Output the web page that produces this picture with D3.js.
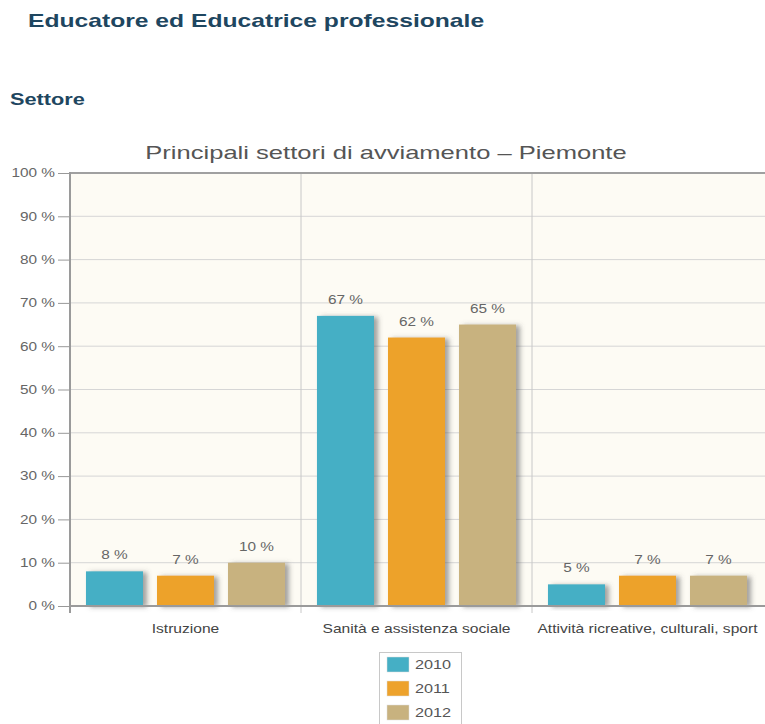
<!DOCTYPE html>
<html>
<head>
<meta charset="utf-8">
<script src="https://cdn.jsdelivr.net/npm/d3@7"></script>
<style>
  html, body { margin: 0; padding: 0; background: #ffffff; }
  svg { display: block; font-family: "Liberation Sans", Arial, Helvetica, sans-serif; }
</style>
</head>
<body>
<svg id="chart" width="765" height="724"></svg>
<script>
const categories = ["Istruzione", "Sanità e assistenza sociale", "Attività ricreative, culturali, sport"];
const years = ["2010", "2011", "2012"];
const values2010 = [8, 67, 5];
const values2011 = [7, 62, 7];
const values2012 = [10, 65, 7];
const yTicks = [0, 10, 20, 30, 40, 50, 60, 70, 80, 90, 100];
const colors = ["#45afc5", "#eda22c", "#c8b27f"];
const seriesValues = [values2010, values2011, values2012];

const svg = d3.select("#chart");

// place text with horizontal stretch (reference glyphs are wider than the font)
function placeText(sel, x, y, sx) {
  return sel.attr("x", x / sx).attr("y", y).attr("transform", `scale(${sx},1)`);
}

// Headers
placeText(svg.append("text"), 28, 27, 1.37)
  .attr("font-size", 18).attr("font-weight", "bold").attr("fill", "#1e4660")
  .text("Educatore ed Educatrice professionale");
placeText(svg.append("text"), 10, 105, 1.36)
  .attr("font-size", 16).attr("font-weight", "bold").attr("fill", "#1e4660")
  .text("Settore");

// Chart title
placeText(svg.append("text"), 386, 159, 1.42).attr("text-anchor", "middle")
  .attr("font-size", 18).attr("fill", "#555")
  .text("Principali settori di avviamento – Piemonte");

const pLeft = 70, pRight = 763, pTop = 173, pBottom = 606;
const sxSmall = 1.28;

const x0 = d3.scaleBand().domain(categories).range([pLeft, pRight]).paddingInner(0).paddingOuter(0);
const x1 = d3.scaleBand().domain(years).range([0, x0.bandwidth()]).paddingInner(0.197).paddingOuter(0.225);
const y = d3.scaleLinear().domain([0, 100]).range([pBottom, pTop]);

// defs: shadow
const defs = svg.append("defs");
const f = defs.append("filter").attr("id", "shadow").attr("x", "-20%").attr("y", "-20%").attr("width", "150%").attr("height", "140%");
f.append("feDropShadow").attr("dx", 4).attr("dy", 1).attr("stdDeviation", 2.5)
  .attr("flood-color", "#555").attr("flood-opacity", 0.55);

// plot background
svg.append("rect").attr("x", pLeft).attr("y", pTop).attr("width", 765 - pLeft).attr("height", pBottom - pTop)
  .attr("fill", "#fdfbf4");

// horizontal gridlines
svg.append("g").selectAll("line").data(yTicks.filter(d => d > 0 && d < 100)).join("line")
  .attr("x1", pLeft).attr("x2", 765).attr("y1", d => y(d)).attr("y2", d => y(d))
  .attr("stroke", "#d6d6d6").attr("stroke-width", 1);

// vertical band separators
svg.append("g").selectAll("line").data(categories.slice(1)).join("line")
  .attr("x1", d => x0(d)).attr("x2", d => x0(d)).attr("y1", pTop).attr("y2", pBottom + 7)
  .attr("stroke", "#c8c8c8").attr("stroke-width", 1);

// y axis
const yAxis = d3.axisLeft(y).tickValues(yTicks).tickSize(12).tickPadding(3).tickFormat(d => d + " %");
const gy = svg.append("g").attr("transform", `translate(${pLeft},0)`).call(yAxis);
gy.select(".domain").remove();
gy.selectAll(".tick line").attr("stroke", "#999").attr("x1", -12).attr("x2", 0);
gy.selectAll(".tick text").attr("font-size", 12).attr("fill", "#666")
  .attr("font-family", "Liberation Sans, Arial, sans-serif")
  .attr("x", -15 / sxSmall).attr("transform", `scale(${sxSmall},1)`);

// top frame
svg.append("line").attr("x1", pLeft).attr("x2", 765).attr("y1", pTop).attr("y2", pTop)
  .attr("stroke", "#a0a0a0").attr("stroke-width", 2);

// bars
const groups = svg.append("g").selectAll("g").data(categories).join("g")
  .attr("transform", d => `translate(${x0(d)},0)`);
groups.selectAll("rect").data((c, ci) => years.map((yr, si) => ({ yr, si, v: seriesValues[si][ci] }))).join("rect")
  .attr("x", d => x1(d.yr)).attr("width", x1.bandwidth())
  .attr("y", d => y(d.v)).attr("height", d => y(0) - y(d.v))
  .attr("fill", d => colors[d.si]).attr("filter", "url(#shadow)");
groups.selectAll("text").data((c, ci) => years.map((yr, si) => ({ yr, si, v: seriesValues[si][ci] }))).join("text")
  .each(function (d) {
    placeText(d3.select(this), x1(d.yr) + x1.bandwidth() / 2, y(d.v) - 12, sxSmall);
  })
  .attr("text-anchor", "middle").attr("font-size", 12).attr("fill", "#666")
  .text(d => d.v + " %");

// bottom axis & left axis lines
svg.append("line").attr("x1", pLeft).attr("x2", 765).attr("y1", pBottom).attr("y2", pBottom)
  .attr("stroke", "#9a9a9a").attr("stroke-width", 2);
svg.append("line").attr("x1", pLeft).attr("x2", pLeft).attr("y1", pTop - 1).attr("y2", pBottom + 7)
  .attr("stroke", "#9a9a9a").attr("stroke-width", 2);

// category labels
svg.append("g").selectAll("text").data(categories).join("text")
  .each(function (d) {
    placeText(d3.select(this), x0(d) + x0.bandwidth() / 2, 633, 1.3);
  })
  .attr("text-anchor", "middle").attr("font-size", 12).attr("fill", "#444")
  .text(d => d);

// legend
const lg = svg.append("g").attr("transform", "translate(379,652)");
lg.append("rect").attr("x", 0.5).attr("y", 0.5).attr("width", 82).attr("height", 90)
  .attr("fill", "#fff").attr("stroke", "#c8c8c8");
const li = lg.selectAll("g").data(years).join("g").attr("transform", (d, i) => `translate(8,${5 + i * 24})`);
li.append("rect").attr("width", 22).attr("height", 15).attr("fill", (d, i) => colors[i])
  .attr("stroke", "#ddd").attr("stroke-width", 0.5);
li.append("text").each(function () { placeText(d3.select(this), 28, 12, 1.25); })
  .attr("font-size", 13).attr("fill", "#555").text(d => d);
</script>
</body>
</html>
